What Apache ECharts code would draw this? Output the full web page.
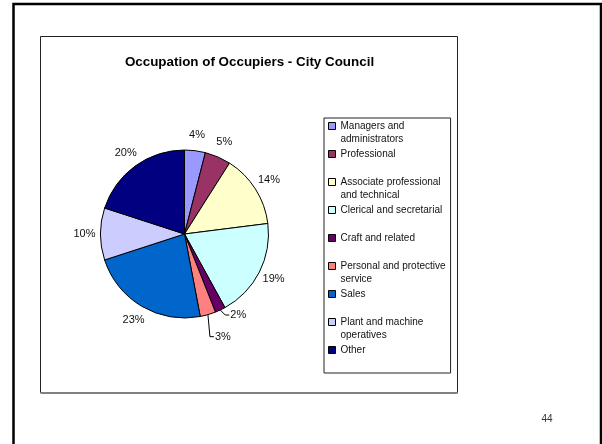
<!DOCTYPE html>
<html>
<head>
<meta charset="utf-8">
<script src="https://cdn.jsdelivr.net/npm/echarts@6/dist/echarts.min.js"></script>
<style>
  html, body { margin: 0; padding: 0; background: #fff; }
  #chart { width: 602px; height: 444px; }
</style>
</head>
<body>
<div id="chart"></div>
<script>
// Occupation categories and their percentage shares
const categories = [
  'Managers and administrators',
  'Professional',
  'Associate professional and technical',
  'Clerical and secretarial',
  'Craft and related',
  'Personal and protective service',
  'Sales',
  'Plant and machine operatives',
  'Other'
];
const shares = [4, 5, 14, 19, 2, 3, 23, 10, 20];

// Legend text, wrapped onto two lines per entry
const legendLines = [
  'Managers and\nadministrators',
  'Professional\n ',
  'Associate professional\nand technical',
  'Clerical and secretarial\n ',
  'Craft and related\n ',
  'Personal and protective\nservice',
  'Sales\n ',
  'Plant and machine\noperatives',
  'Other\n '
];

const sliceColors = ['#9999FF', '#993366', '#FFFFCC', '#CCFFFF', '#660066',
                     '#FF8080', '#0066CC', '#CCCCFF', '#000080'];

const titleText = 'Occupation of Occupiers - City Council';
const pageNumber = '44';

// Pie geometry (pixels)
const CX = 184.5, CY = 234, RADIUS = 84, LABEL_RADIUS = 100;
const FONT = 'Liberation Sans, Arial, sans-serif';

// Narrow slices get a leader line; offset of their text from the rim
const callouts = { 4: [10, 5], 5: [7, 22] };

const total = shares.reduce((a, b) => a + b, 0);
function midAngle(i) {
  let before = 0;
  for (let k = 0; k < i; k++) before += shares[k];
  return (before + shares[i] / 2) / total * 2 * Math.PI; // clockwise from 12 o'clock
}

const chart = echarts.init(document.getElementById('chart'), null, { renderer: 'canvas' });

chart.setOption({
  animation: false,
  backgroundColor: '#ffffff',
  title: {
    text: titleText,
    left: 249.5,
    top: 56,
    padding: 0,
    textAlign: 'center',
    textStyle: { fontFamily: FONT, fontSize: 13.4, fontWeight: 'bold', color: '#000' }
  },
  legend: {
    orient: 'vertical',
    left: 324,
    top: 118,
    padding: [1, 5, 3, 4],
    borderColor: '#222',
    borderWidth: 1,
    itemWidth: 7,
    itemHeight: 26,
    itemGap: 1,
    icon: 'path://M0,3H7V10H0Z M0,0L0,0 M0,26L0,26',
    itemStyle: { borderColor: '#000', borderWidth: 1 },
    selectedMode: false,
    textStyle: { fontFamily: FONT, fontSize: 10, lineHeight: 13, color: '#111', padding: 0 },
    formatter: name => legendLines[categories.indexOf(name)],
    data: categories
  },
  series: [{
    type: 'pie',
    center: [CX, CY],
    radius: RADIUS,
    startAngle: 90,
    clockwise: true,
    avoidLabelOverlap: false,
    silent: true,
    emphasis: { disabled: true },
    itemStyle: { borderColor: '#000', borderWidth: 1 },
    label: {
      show: true,
      position: 'outside',
      formatter: '{c}%',
      fontFamily: FONT,
      fontSize: 11,
      color: '#111'
    },
    labelLine: { show: false, lineStyle: { color: '#000', width: 1 } },
    labelLayout: function (p) {
      const a = midAngle(p.dataIndex);
      const s = Math.sin(a), c = Math.cos(a);
      const off = callouts[p.dataIndex];
      if (off) {
        const ex = CX + RADIUS * s, ey = CY - RADIUS * c;
        const tx = ex + off[0], ty = ey + off[1];
        return {
          x: tx, y: ty, align: 'left', verticalAlign: 'middle',
          labelLinePoints: [[ex, ey], [tx - 5, ty], [tx - 1, ty]]
        };
      }
      return { x: CX + LABEL_RADIUS * s, y: CY - LABEL_RADIUS * c, align: 'center', verticalAlign: 'middle' };
    },
    data: categories.map((name, i) => ({
      name: name,
      value: shares[i],
      itemStyle: { color: sliceColors[i] },
      labelLine: { show: callouts[i] !== undefined }
    }))
  }],
  graphic: [
    { // slide frame
      type: 'rect', silent: true,
      shape: { x: 13.5, y: 4, width: 587.5, height: 470 },
      style: { fill: null, stroke: '#000', lineWidth: 2.5 }
    },
    { // chart area frame
      type: 'rect', silent: true,
      shape: { x: 40.5, y: 36.5, width: 417, height: 356 },
      style: { fill: null, stroke: '#222', lineWidth: 1 }
    },
    {
      type: 'line', silent: true,
      shape: { x1: 40.5, y1: 393, x2: 457.5, y2: 393 },
      style: { stroke: '#808080', lineWidth: 2 }
    },
    {
      type: 'text', silent: true,
      x: 547, y: 419,
      style: { text: pageNumber, fontFamily: FONT, fontSize: 10, fill: '#333', align: 'center', verticalAlign: 'middle' }
    }
  ]
});
</script>
</body>
</html>
